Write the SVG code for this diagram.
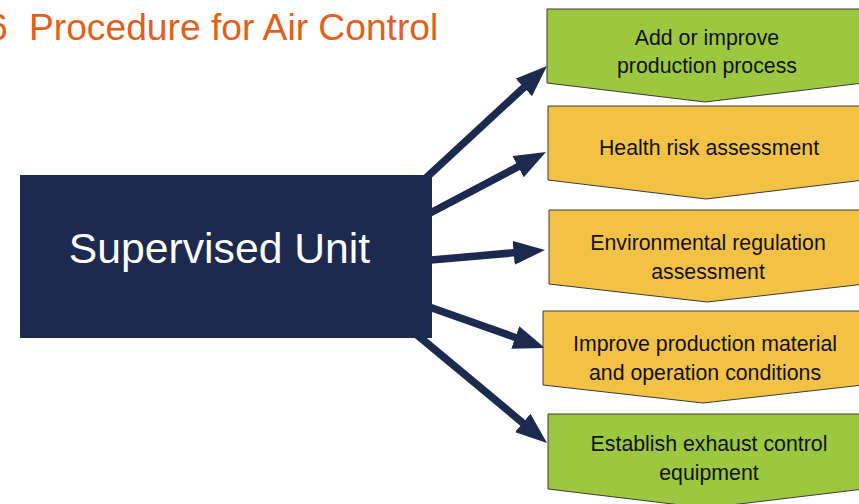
<svg xmlns="http://www.w3.org/2000/svg" width="859" height="504" viewBox="0 0 859 504">
  <style>
    .title { font-family: "Liberation Sans", Arial, sans-serif; font-size: 37.2px; fill: #e2601b; }
    .unit { font-family: "Liberation Sans", Arial, sans-serif; font-size: 42.7px; fill: #ffffff; }
    .step { font-family: "Liberation Sans", Arial, sans-serif; font-size: 21.3px; fill: #111111; text-anchor: middle; }
    .green { fill: #9bc83f; stroke: #3a3a3a; stroke-width: 1; }
    .amber { fill: #f3c244; stroke: #3a3a3a; stroke-width: 1; }
    .conn { stroke: #1b2a4e; stroke-width: 7.5; fill: none; marker-end: url(#head); }
  </style>
  <defs>
    <marker id="head" viewBox="0 0 4.2 3.2" refX="0.3" refY="1.6" markerWidth="4.2" markerHeight="3.2" markerUnits="strokeWidth" orient="auto">
      <path d="M0,0 L4.2,1.6 L0,3.2 z" fill="#1b2a4e"/>
    </marker>
  </defs>
  <rect width="859" height="504" fill="#ffffff"/>

  <!-- heading; the section number runs off the left edge -->
  <g id="title">
    <text class="title" x="-13" y="40">6</text>
    <text class="title" x="29" y="40">Procedure for Air Control</text>
  </g>

  <!-- connectors -->
  <g id="connectors">
    <line class="conn" x1="419.7" y1="183.8" x2="525.5" y2="85.9"/>
    <line class="conn" x1="425" y1="215.7" x2="520.1" y2="165.6"/>
    <line class="conn" x1="425" y1="260.6" x2="515.9" y2="252.6"/>
    <line class="conn" x1="425" y1="305.5" x2="517.4" y2="338.2"/>
    <line class="conn" x1="416" y1="334" x2="524.5" y2="424.3"/>
  </g>

  <!-- source -->
  <g id="supervised-unit">
    <rect x="20" y="175" width="412" height="163" fill="#1b2a4e"/>
    <text class="unit" x="219.5" y="263" text-anchor="middle">Supervised Unit</text>
  </g>

  <!-- steps -->
  <g id="step-process">
    <polygon class="green" points="547,9 863,9 863,83 705,102 547,83"/>
    <text class="step" x="707" y="45">Add or improve</text>
    <text class="step" x="707" y="73">production process</text>
  </g>
  <g id="step-health">
    <polygon class="amber" points="548,106 864,106 864,180 706,199 548,180"/>
    <text class="step" x="709" y="155">Health risk assessment</text>
  </g>
  <g id="step-environment">
    <polygon class="amber" points="549,210 865,210 865,284 707,302 549,284"/>
    <text class="step" x="708" y="250">Environmental regulation</text>
    <text class="step" x="708" y="279">assessment</text>
  </g>
  <g id="step-material">
    <polygon class="amber" points="543,311 863,311 863,385 703,403 543,385"/>
    <text class="step" x="705" y="351">Improve production material</text>
    <text class="step" x="705" y="380">and operation conditions</text>
  </g>
  <g id="step-exhaust">
    <polygon class="green" points="548,414 864,414 864,489 706,508 548,489"/>
    <text class="step" x="709" y="451">Establish exhaust control</text>
    <text class="step" x="709" y="480">equipment</text>
  </g>
</svg>
